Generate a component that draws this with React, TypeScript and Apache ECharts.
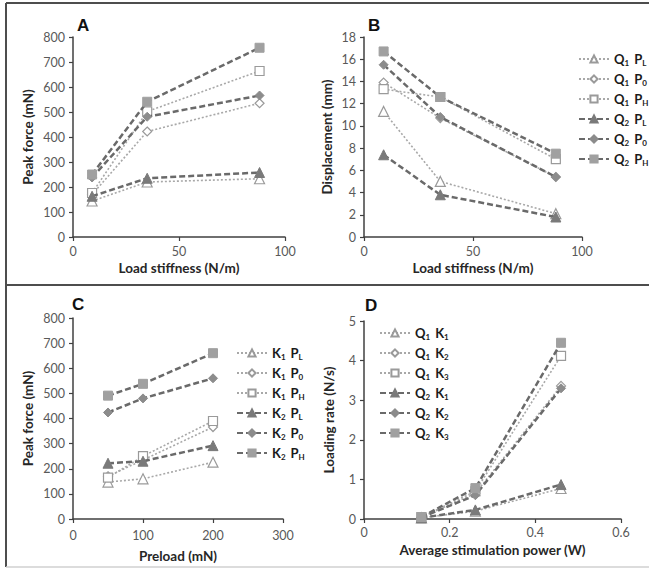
import React, { useEffect, useRef } from "react";
import * as echarts from "echarts";

// ---------- data ----------
const stiffness = [9, 35, 88];
const aQ1PL = [144, 220, 233];
const aQ1P0 = [170, 422, 535];
const aQ1PH = [176, 502, 664];
const aQ2PL = [163, 235, 258];
const aQ2P0 = [238, 481, 566];
const aQ2PH = [250, 541, 757];

const bQ1PL = [11.3, 5.0, 2.1];
const bQ1P0 = [13.9, 10.7, 5.4];
const bQ1PH = [13.3, 12.6, 7.0];
const bQ2PL = [7.4, 3.8, 1.8];
const bQ2P0 = [15.5, 10.8, 5.4];
const bQ2PH = [16.7, 12.6, 7.5];

const preload = [50, 100, 200];
const cK1PL = [147, 160, 226];
const cK1P0 = [170, 235, 366];
const cK1PH = [165, 250, 390];
const cK2PL = [222, 230, 292];
const cK2P0 = [424, 480, 560];
const cK2PH = [491, 538, 660];

const power = [0.134, 0.26, 0.46];
const dQ1K1 = [0.03, 0.2, 0.77];
const dQ1K2 = [0.04, 0.65, 3.36];
const dQ1K3 = [0.05, 0.7, 4.12];
const dQ2K1 = [0.03, 0.23, 0.87];
const dQ2K2 = [0.04, 0.6, 3.3];
const dQ2K3 = [0.05, 0.78, 4.45];

const FONT = "Lato";

type Kind = "PL" | "P0" | "PH";
const symbolOf: Record<Kind, string> = { PL: "triangle", P0: "diamond", PH: "rect" };
const sizeOf: Record<Kind, number> = { PL: 10, P0: 9, PH: 9 };
const fillOf: Record<Kind, string> = { PL: "#7a7a7a", P0: "#8c8c8c", PH: "#a0a0a0" };

function mk(name: string, idx: number, xs: number[], ys: number[], open: boolean, kind: Kind) {
  return {
    type: "line",
    name,
    xAxisIndex: idx,
    yAxisIndex: idx,
    data: xs.map((x, i) => [x, ys[i]]),
    symbol: symbolOf[kind],
    symbolSize: sizeOf[kind],
    z: open ? 2 : 3,
    lineStyle: open
      ? { type: [2, 2], color: "#a8a8a8", width: 1.6 }
      : { type: [6, 3], color: "#6a6a6a", width: 2.5 },
    itemStyle: open
      ? { color: "#ffffff", borderColor: "#9a9a9a", borderWidth: 1.2 }
      : { color: fillOf[kind], borderColor: fillOf[kind], borderWidth: 1 },
  };
}

function sub(name: string) {
  const parts = name.split(" ");
  return parts.map((p) => `{b|${p[0]}}{s|${p.slice(1)}}`).join("{g| }");
}

const rich = {
  b: { fontFamily: FONT, fontSize: 13, fontWeight: "bold", color: "#1a1a1a", lineHeight: 16, verticalAlign: "middle" },
  s: { fontFamily: FONT, fontSize: 8, fontWeight: "bold", color: "#1a1a1a", lineHeight: 8, padding: [7, 0, 0, 0], verticalAlign: "bottom" },
  g: { fontFamily: FONT, fontSize: 13, lineHeight: 16, width: 5 },
};

function axisCommon(gridIndex: number, name: string, gap: number, min: number, max: number, interval: number, margin = 8) {
  return {
    type: "value",
    gridIndex,
    min,
    max,
    interval,
    name,
    nameLocation: "middle",
    nameGap: gap,
    nameTextStyle: { fontFamily: FONT, fontSize: 13.5, fontWeight: "bold", color: "#262626" },
    axisLine: { show: true, onZero: false, lineStyle: { color: "#404040", width: 1.5 } },
    axisTick: { show: true, inside: false, length: 4, lineStyle: { color: "#404040", width: 1.2 } },
    axisLabel: { fontFamily: FONT, fontSize: 12.5, color: "#595959", margin },
    splitLine: { show: false },
  };
}

export default function App() {
  const ref = useRef<HTMLDivElement>(null);
  useEffect(() => {
    document.body.style.margin = "0";
    const chart = echarts.init(ref.current!, null, { renderer: "svg" });
    const legendCommon = {
      orient: "vertical",
      itemWidth: 30,
      itemHeight: 9,
      itemGap: 5,
      formatter: (n: string) => sub(n),
      textStyle: { rich },
      selectedMode: false,
    };
    chart.setOption({
      animation: false,
      backgroundColor: "#ffffff",
      grid: [
        { left: 73, top: 37, width: 212, height: 200 },
        { left: 364, top: 37, width: 218, height: 200 },
        { left: 73, top: 318, width: 210, height: 201 },
        { left: 364, top: 321, width: 257, height: 198 },
      ],
      xAxis: [
        axisCommon(0, "Load stiffness (N/m)", 24, 0, 100, 50),
        axisCommon(1, "Load stiffness (N/m)", 24, 0, 100, 50),
        axisCommon(2, "Preload (mN)", 30, 0, 300, 100, 10),
        axisCommon(3, "Average stimulation power (W)", 24, 0, 0.6, 0.2, 7),
      ],
      yAxis: [
        axisCommon(0, "Peak force (mN)", 38, 0, 800, 100),
        axisCommon(1, "Displacement (mm)", 30, 0, 18, 2),
        axisCommon(2, "Peak force (mN)", 38, 0, 800, 100),
        axisCommon(3, "Loading rate (N/s)", 28, 0, 5, 1),
      ],
      legend: [
        { ...legendCommon, left: 573, top: 47, data: ["Q1 PL", "Q1 P0", "Q1 PH", "Q2 PL", "Q2 P0", "Q2 PH"] },
        { ...legendCommon, left: 231, top: 341, data: ["K1 PL", "K1 P0", "K1 PH", "K2 PL", "K2 P0", "K2 PH"] },
        { ...legendCommon, left: 374, top: 321, data: ["Q1 K1", "Q1 K2", "Q1 K3", "Q2 K1", "Q2 K2", "Q2 K3"] },
      ],
      graphic: [
        { type: "line", shape: { x1: 6, y1: 3, x2: 649, y2: 3 }, style: { stroke: "#4d4d4d", lineWidth: 2 } },
        { type: "line", shape: { x1: 6, y1: 3, x2: 6, y2: 567 }, style: { stroke: "#4d4d4d", lineWidth: 2 } },
        { type: "line", shape: { x1: 6, y1: 285, x2: 649, y2: 285 }, style: { stroke: "#4d4d4d", lineWidth: 2 } },
        { type: "line", shape: { x1: 6, y1: 567, x2: 649, y2: 567 }, style: { stroke: "#d0d0d0", lineWidth: 1.5 } },
        { type: "text", left: 77, top: 17, style: { text: "A", font: "bold 17px 'Liberation Sans'", fill: "#111" } },
        { type: "text", left: 368, top: 17, style: { text: "B", font: "bold 17px 'Liberation Sans'", fill: "#111" } },
        { type: "text", left: 72, top: 296, style: { text: "C", font: "bold 17px 'Liberation Sans'", fill: "#111" } },
        { type: "text", left: 365, top: 297, style: { text: "D", font: "bold 17px 'Liberation Sans'", fill: "#111" } },
      ],
      series: [
        mk("A Q1 PL", 0, stiffness, aQ1PL, true, "PL"),
        mk("A Q1 P0", 0, stiffness, aQ1P0, true, "P0"),
        mk("A Q1 PH", 0, stiffness, aQ1PH, true, "PH"),
        mk("A Q2 PL", 0, stiffness, aQ2PL, false, "PL"),
        mk("A Q2 P0", 0, stiffness, aQ2P0, false, "P0"),
        mk("A Q2 PH", 0, stiffness, aQ2PH, false, "PH"),
        mk("Q1 PL", 1, stiffness, bQ1PL, true, "PL"),
        mk("Q1 P0", 1, stiffness, bQ1P0, true, "P0"),
        mk("Q1 PH", 1, stiffness, bQ1PH, true, "PH"),
        mk("Q2 PL", 1, stiffness, bQ2PL, false, "PL"),
        mk("Q2 P0", 1, stiffness, bQ2P0, false, "P0"),
        mk("Q2 PH", 1, stiffness, bQ2PH, false, "PH"),
        mk("K1 PL", 2, preload, cK1PL, true, "PL"),
        mk("K1 P0", 2, preload, cK1P0, true, "P0"),
        mk("K1 PH", 2, preload, cK1PH, true, "PH"),
        mk("K2 PL", 2, preload, cK2PL, false, "PL"),
        mk("K2 P0", 2, preload, cK2P0, false, "P0"),
        mk("K2 PH", 2, preload, cK2PH, false, "PH"),
        mk("Q1 K1", 3, power, dQ1K1, true, "PL"),
        mk("Q1 K2", 3, power, dQ1K2, true, "P0"),
        mk("Q1 K3", 3, power, dQ1K3, true, "PH"),
        mk("Q2 K1", 3, power, dQ2K1, false, "PL"),
        mk("Q2 K2", 3, power, dQ2K2, false, "P0"),
        mk("Q2 K3", 3, power, dQ2K3, false, "PH"),
      ],
    });
    return () => chart.dispose();
  }, []);
  return <div ref={ref} style={{ width: 649, height: 569 }} />;
}
